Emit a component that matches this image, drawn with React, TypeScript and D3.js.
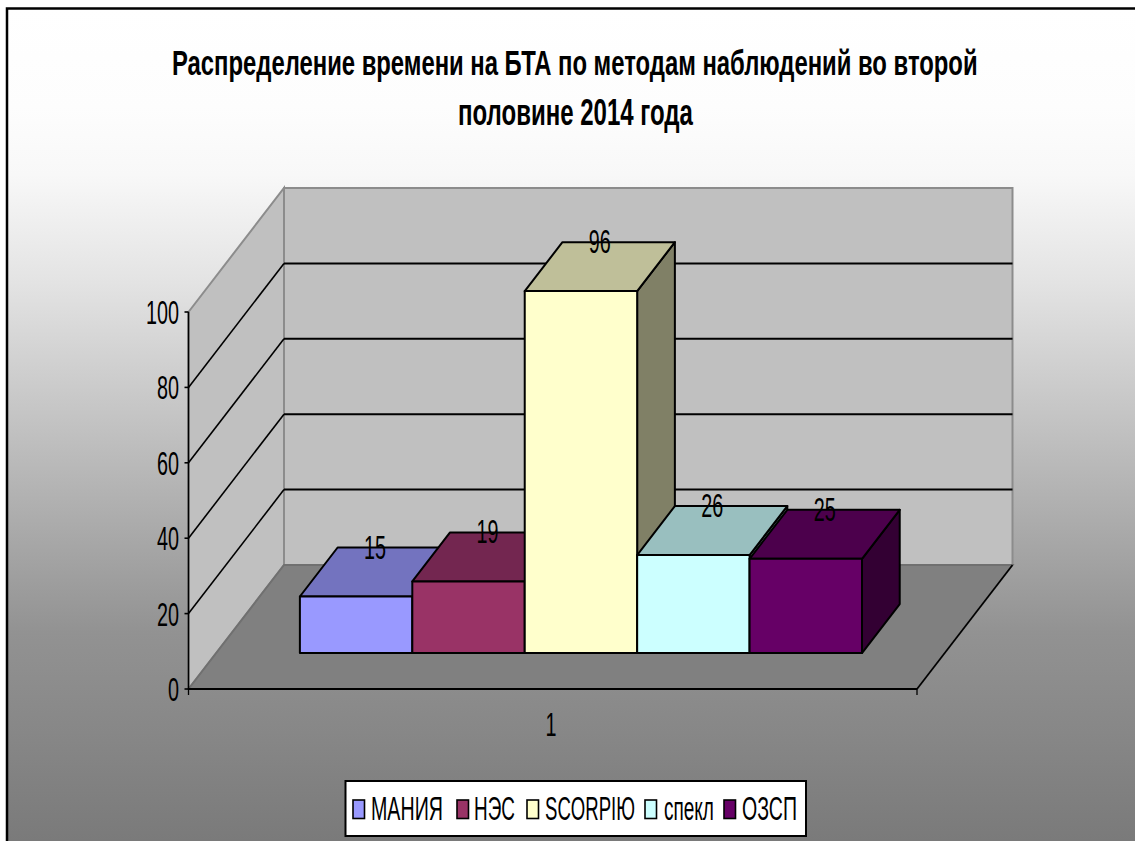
import React, { useLayoutEffect, useRef } from 'react';
import { scaleBand, scaleLinear, line } from 'd3';

const titleLines = ['Распределение времени на БТА по методам наблюдений во второй', 'половине 2014 года'];
const seriesNames = ['МАНИЯ', 'НЭС', 'SCORPIЮ', 'спекл', 'ОЗСП'];
const seriesValues = [15, 19, 96, 26, 25];
const yTicks = [0, 20, 40, 60, 80, 100];
const categoryLabel = '1';

const frontColors = ['#9999ff', '#993366', '#ffffcc', '#ccffff', '#660066'];
const topColors = ['#7373bf', '#732650', '#bfbf99', '#99bfbf', '#4c004c'];
const sideColors = ['#4d4d80', '#4d1a33', '#808066', '#668080', '#330033'];

const bgOffsets = [0, 0.12, 0.2, 0.33, 0.47, 0.61, 0.75, 0.87, 1];
const bgGrays = ['#ffffff', '#fdfdfd', '#f8f8f8', '#e3e3e3', '#c8c8c8', '#adadad', '#929292', '#878787', '#7a7a7a'];

// legend text widths and positions
const legendSwatchX = [353, 457, 527, 645, 724];
const legendTextX = [371, 474, 545, 664, 742];
const legendTextW = [72, 41, 90, 50, 55];

const FONT = '"Liberation Sans", Arial, sans-serif';

const x = scaleBand<string>().domain(seriesNames).range([189, 917.5]).paddingInner(0).paddingOuter(0.74);
const yPx = scaleLinear().domain([0, 100]).range([0, 377]);
// depth: 0 is the front of the floor, 1 is the back wall
const dx = scaleLinear().domain([0, 1]).range([0, 95.5]);
const dy = scaleLinear().domain([0, 1]).range([0, -124]);

const BASE_Y = 689;
const X0 = 188.5;
const X1 = 917;
const BAR_Z0 = 0.29;
const BAR_Z1 = 0.685;

function project(px: number, value: number, z: number): [number, number] {
  return [px + dx(z), BASE_Y - yPx(value) + dy(z)];
}

const path = line();
const closed = (pts: [number, number][]) => path(pts) + 'Z';

// the original text is squeezed sideways, so each label is scaled to its measured width
function Label({ x, y, w, size, anchor, bold, children }: any) {
  const ref = useRef<SVGTextElement>(null);
  useLayoutEffect(() => {
    const el = ref.current;
    if (!el) return;
    const sx = w / el.getComputedTextLength();
    el.setAttribute('transform', `translate(${x},${y}) scale(${sx},1)`);
  }, [x, y, w]);
  return (
    <text
      ref={ref}
      transform={`translate(${x},${y})`}
      textAnchor={anchor || 'start'}
      fontFamily={FONT}
      fontSize={size}
      fontWeight={bold ? 'bold' : 'normal'}
      fill="#000"
    >
      {children}
    </text>
  );
}

export default function App() {
  return (
    <svg width={1135} height={841} style={{ position: 'absolute', left: 0, top: 0 }}>
      <defs>
        <linearGradient id="bg" gradientUnits="userSpaceOnUse" x1={0} y1={8} x2={0} y2={841}>
          {bgOffsets.map((o, i) => (
            <stop key={o} offset={o} stopColor={bgGrays[i]} />
          ))}
        </linearGradient>
      </defs>
      <rect x={7} y={8} width={1128} height={833} fill="url(#bg)" />
      <path d="M7,841V8.5H1135" fill="none" stroke="#000" strokeWidth={2.5} />

      {titleLines.map((t, i) => (
        <Label key={t} x={i === 0 ? 172 : 458} y={i === 0 ? 75 : 125} w={i === 0 ? 806 : 235} size={36} bold>
          {t}
        </Label>
      ))}

      {/* walls */}
      <path
        d={closed([project(X0, 0, 0), project(X0, 0, 1), project(X0, 100, 1), project(X0, 100, 0)])}
        fill="#c0c0c0"
        stroke="#8c8c8c"
        strokeWidth={2}
      />
      <path
        d={closed([project(X0, 0, 1), project(X1, 0, 1), project(X1, 100, 1), project(X0, 100, 1)])}
        fill="#c0c0c0"
        stroke="#8c8c8c"
        strokeWidth={2}
      />
      <path
        d={closed([project(X0, 0, 0), project(X1, 0, 0), project(X1, 0, 1), project(X0, 0, 1)])}
        fill="#808080"
        stroke="#707070"
        strokeWidth={2}
      />

      {/* gridlines */}
      {yTicks.slice(1, 5).map(t => (
        <g key={t} fill="none" stroke="#000">
          <path d={path([project(X0, t, 0), project(X0, t, 1)]) as string} strokeWidth={1.6} />
          <path d={path([project(X0, t, 1), project(X1, t, 1)]) as string} strokeWidth={2} />
        </g>
      ))}

      {/* axes */}
      <path d={path([project(X0, 0, 0), project(X0, 100, 0)]) as string} stroke="#000" strokeWidth={1.6} fill="none" />
      <path d={path([project(X0, 0, 0), project(X1, 0, 0)]) as string} stroke="#000" strokeWidth={2.2} fill="none" />
      <path d={path([project(X1, 0, 0), project(X1, 0, 1)]) as string} stroke="#000" strokeWidth={1.6} fill="none" />
      <path d={`M${X1},${BASE_Y}v6`} stroke="#000" strokeWidth={1.3} />
      <path d={`M${X0},${BASE_Y}v6`} stroke="#000" strokeWidth={1.3} />
      {yTicks.map(t => {
        const [px, py] = project(X0, t, 0);
        return (
          <g key={t}>
            <path d={`M${px - 4},${py}H${px}`} stroke="#000" strokeWidth={1.6} />
            <Label x={px - 9.5} y={py + 12} w={String(t).length * 11} size={34} anchor="end">
              {t}
            </Label>
          </g>
        );
      })}
      <Label x={551} y={736} w={11} size={34} anchor="middle">
        {categoryLabel}
      </Label>

      {/* bars */}
      {seriesNames.map((name, i) => {
        const v = seriesValues[i];
        const l = x(name) as number;
        const r = l + x.bandwidth();
        return (
          <g key={name} stroke="#000" strokeWidth={2} strokeLinejoin="round">
            <path
              d={closed([project(r, 0, BAR_Z0), project(r, 0, BAR_Z1), project(r, v, BAR_Z1), project(r, v, BAR_Z0)])}
              fill={sideColors[i]}
            />
            <path
              d={closed([project(l, v, BAR_Z0), project(r, v, BAR_Z0), project(r, v, BAR_Z1), project(l, v, BAR_Z1)])}
              fill={topColors[i]}
            />
            <path
              d={closed([project(l, 0, BAR_Z0), project(r, 0, BAR_Z0), project(r, v, BAR_Z0), project(l, v, BAR_Z0)])}
              fill={frontColors[i]}
            />
          </g>
        );
      })}
      {seriesNames.map((name, i) => {
        const v = seriesValues[i];
        const c = (x(name) as number) + x.bandwidth() / 2;
        const [px] = project(c, v, (BAR_Z0 + BAR_Z1) / 2);
        const [, py] = project(c, v, BAR_Z1);
        return (
          <Label key={name} x={px} y={py + 11} w={String(v).length * 11} size={34} anchor="middle">
            {v}
          </Label>
        );
      })}

      {/* legend */}
      <rect x={345.5} y={781} width={460.5} height={55} fill="#fff" stroke="#000" strokeWidth={2} />
      {seriesNames.map((name, i) => (
        <g key={name}>
          <rect x={legendSwatchX[i]} y={800} width={11.5} height={18.5} fill={frontColors[i]} stroke="#000" strokeWidth={1.6} />
          <Label x={legendTextX[i]} y={820} w={legendTextW[i]} size={33}>
            {name}
          </Label>
        </g>
      ))}
    </svg>
  );
}
